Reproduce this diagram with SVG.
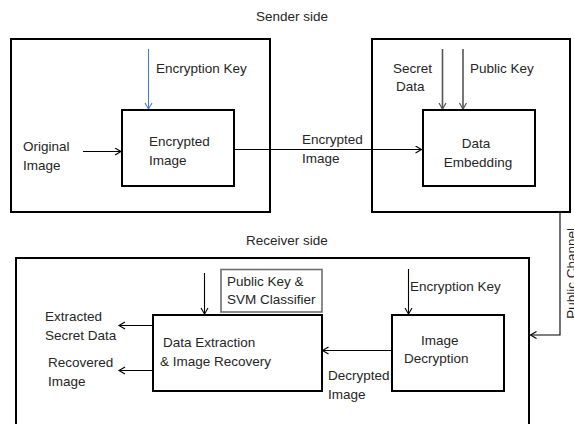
<svg xmlns="http://www.w3.org/2000/svg" width="574" height="424" viewBox="0 0 574 424">
<defs>
<style>
text{font-family:"Liberation Sans",Arial,sans-serif;font-size:13.5px;fill:#262626}
.outer{fill:none;stroke:#000;stroke-width:2}
.box{fill:#fff;stroke:#000;stroke-width:2}
.gbox{fill:#fff;stroke:#6e6e6e;stroke-width:1.6}
.c{fill:none;stroke:#000;stroke-width:1.1}
.g{fill:none;stroke:#555;stroke-width:1.6}
.b{fill:none;stroke:#4a7ebb;stroke-width:1.1}
</style>
<marker id="ah" markerWidth="10" markerHeight="10" refX="7" refY="4" orient="auto" markerUnits="userSpaceOnUse">
<path d="M1,0.5 L7,4 L1,7.5" fill="none" stroke="#000" stroke-width="1.1"/>
</marker>
<marker id="ahg" markerWidth="10" markerHeight="10" refX="7" refY="4" orient="auto" markerUnits="userSpaceOnUse">
<path d="M1,0.5 L7,4 L1,7.5" fill="none" stroke="#555" stroke-width="1.2"/>
</marker>
<marker id="ahb" markerWidth="10" markerHeight="10" refX="7" refY="4" orient="auto" markerUnits="userSpaceOnUse">
<path d="M1,0.5 L7,4 L1,7.5" fill="none" stroke="#4a7ebb" stroke-width="1.1"/>
</marker>
</defs>
<rect width="574" height="424" fill="#fff"/>

<g id="sender">
<text x="256" y="21">Sender side</text>
<rect class="outer" x="11" y="39" width="259" height="173"/>
<rect class="outer" x="372" y="39" width="198" height="173"/>
</g>
<g id="receiver">
<text x="246" y="245">Receiver side</text>
<rect class="outer" x="16" y="258" width="513" height="180"/>
</g>

<g id="connectors">
<line class="b" x1="148.5" y1="49" x2="148.5" y2="109" marker-end="url(#ahb)"/>
<line class="c" x1="83" y1="151.5" x2="121" y2="151.5" marker-end="url(#ah)"/>
<line class="c" x1="234" y1="149.5" x2="421.5" y2="149.5" marker-end="url(#ah)"/>
<line class="g" x1="442.5" y1="49" x2="442.5" y2="109" marker-end="url(#ahg)"/>
<line class="g" x1="463" y1="49" x2="463" y2="109" marker-end="url(#ahg)"/>
<polyline class="c" points="560,212 560,335 530.5,335" marker-end="url(#ah)"/>
<line class="c" x1="408.5" y1="269" x2="408.5" y2="314" marker-end="url(#ah)"/>
<line class="c" x1="391" y1="350.5" x2="322.5" y2="350.5" marker-end="url(#ah)"/>
<line class="c" x1="204.5" y1="273" x2="204.5" y2="314" marker-end="url(#ah)"/>
<line class="c" x1="153" y1="325.5" x2="119" y2="325.5" marker-end="url(#ah)"/>
<line class="c" x1="153" y1="370.5" x2="119" y2="370.5" marker-end="url(#ah)"/>
</g>

<g id="labels">
<text x="156" y="73">Encryption Key</text>
<text x="23" y="151">Original</text>
<text x="23" y="170">Image</text>
<text x="302" y="144">Encrypted</text>
<text x="302" y="163">Image</text>
<text x="393" y="73">Secret</text>
<text x="396" y="91">Data</text>
<text x="470" y="73">Public Key</text>
<text transform="translate(575.5,228) rotate(-90)" text-anchor="end">Public Channel</text>
<text x="410" y="291">Encryption Key</text>
<text x="328" y="380">Decrypted</text>
<text x="328" y="399">Image</text>
<text x="45" y="321">Extracted</text>
<text x="45" y="340">Secret Data</text>
<text x="48" y="367">Recovered</text>
<text x="48" y="386">Image</text>
</g>

<g id="encrypted-image">
<rect class="box" x="122" y="110" width="112" height="76"/>
<text x="149" y="146">Encrypted</text>
<text x="149" y="165">Image</text>
</g>
<g id="data-embedding">
<rect class="box" x="423" y="110" width="112" height="76"/>
<text x="476" y="148" text-anchor="middle">Data</text>
<text x="478" y="167" text-anchor="middle">Embedding</text>
</g>
<g id="public-key-svm">
<rect class="gbox" x="221" y="269.5" width="101" height="42.5"/>
<text x="227" y="286">Public Key &amp;</text>
<text x="227" y="304">SVM Classifier</text>
</g>
<g id="data-extraction">
<rect class="box" x="153" y="315" width="169" height="76"/>
<text x="163" y="347">Data Extraction</text>
<text x="160" y="366">&amp; Image Recovery</text>
</g>
<g id="image-decryption">
<rect class="box" x="392" y="315" width="112" height="76"/>
<text x="421" y="345">Image</text>
<text x="404" y="363">Decryption</text>
</g>
</svg>
